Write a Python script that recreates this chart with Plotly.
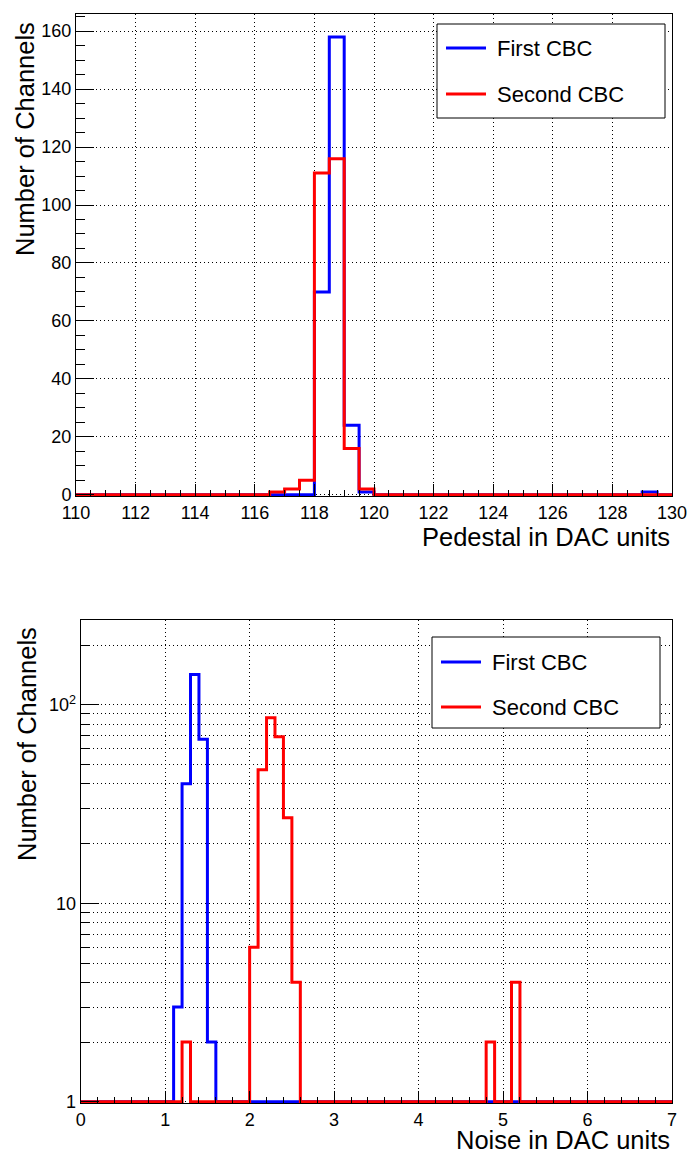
import numpy as np
import plotly.graph_objects as go

# Pedestal histogram: 40 bins of 0.5 DAC units between 110 and 130
ped_edges = np.arange(110, 130.01, 0.5)
ped_first_low = [118.0, 118.5, 119.0, 119.5, 129.0]
ped_first_counts = [70, 158, 24, 1, 1]
ped_second_low = [116.5, 117.0, 117.5, 118.0, 118.5, 119.0, 119.5]
ped_second_counts = [1, 2, 5, 111, 116, 16, 2]

# Noise histogram: 70 bins of 0.1 DAC units between 0 and 7
noise_edges = np.round(np.arange(0, 7.001, 0.1), 1)
noise_first_low = [1.1, 1.2, 1.3, 1.4, 1.5]
noise_first_counts = [3, 40, 142, 67, 2]
noise_second_low = [1.2, 2.0, 2.1, 2.2, 2.3, 2.4, 2.5, 4.8, 5.1]
noise_second_counts = [2, 6, 47, 86, 69, 27, 4, 2, 4]

series_names = ["First CBC", "Second CBC"]
series_colors = ["#0000ff", "#ff0000"]

W, H = 688, 1155
L, R, T, B = 76, 16, 14, 52
FONT = "Liberation Sans, Arial, sans-serif"


def px_x(p):
    """pixel column -> paper x"""
    return (p - L) / (W - L - R)


def px_y(p):
    """pixel row -> paper y"""
    return (H - B - p) / (H - T - B)


def fill(edges, lows, counts):
    h = np.zeros(len(edges) - 1)
    width = edges[1] - edges[0]
    for lo, c in zip(lows, counts):
        h[int(round((lo - edges[0]) / width))] = c
    return h


def step_trace(edges, h, color, xa, ya):
    return go.Scatter(
        x=edges,
        y=np.append(h, h[-1]),
        mode="lines",
        line=dict(color=color, width=3, shape="hv"),
        xaxis=xa,
        yaxis=ya,
        showlegend=False,
        hoverinfo="skip",
    )


fig = go.Figure()

# Top: pedestals
for lows, counts, color in zip(
    [ped_first_low, ped_second_low], [ped_first_counts, ped_second_counts], series_colors
):
    fig.add_trace(step_trace(ped_edges, fill(ped_edges, lows, counts), color, "x", "y"))

# Bottom: noise, log scale (empty bins sit on the axis floor like ROOT draws them)
for lows, counts, color in zip(
    [noise_first_low, noise_second_low], [noise_first_counts, noise_second_counts], series_colors
):
    h = np.clip(fill(noise_edges, lows, counts), 1, None)
    fig.add_trace(step_trace(noise_edges, h, color, "x2", "y2"))

axis_common = dict(
    automargin=False,
    showline=True,
    linecolor="black",
    linewidth=1,
    mirror=True,
    ticks="inside",
    tickcolor="black",
    showgrid=True,
    gridcolor="black",
    griddash="1px,3px",
    gridwidth=1,
    zeroline=False,
    tickfont=dict(size=18, color="black"),
)

fig.update_layout(
    width=W,
    height=H,
    margin=dict(l=L, r=R, t=T, b=B, autoexpand=False),
    paper_bgcolor="white",
    plot_bgcolor="white",
    font=dict(family=FONT, color="black"),
    showlegend=False,
    xaxis=dict(
        axis_common,
        domain=[0, 1],
        anchor="y",
        range=[110, 130],
        tick0=110,
        dtick=2,
        ticklen=12,
        minor=dict(dtick=0.5, ticklen=6, ticks="inside", tickcolor="black", showgrid=False),
    ),
    yaxis=dict(
        axis_common,
        domain=[px_y(496), 1],
        anchor="x",
        range=[-0.4, 165.9],
        tick0=0,
        dtick=20,
        ticklen=18,
        minor=dict(dtick=5, ticklen=9, ticks="inside", tickcolor="black", showgrid=False),
    ),
    xaxis2=dict(
        axis_common,
        domain=[px_x(80.7), 1],
        anchor="y2",
        range=[0, 7],
        tick0=0,
        dtick=1,
        ticklen=12,
        minor=dict(dtick=0.2, ticklen=6, ticks="inside", tickcolor="black", showgrid=False),
    ),
    yaxis2=dict(
        axis_common,
        type="log",
        domain=[0, px_y(620)],
        anchor="x2",
        range=[-0.006, 2.427],
        tickvals=[1, 10, 100],
        ticktext=["1", "10", "10<sup>2</sup>"],
        ticklen=18,
        minor=dict(
            dtick="D1",
            ticklen=9,
            ticks="inside",
            tickcolor="black",
            showgrid=True,
            gridcolor="black",
            griddash="1px,3px",
            gridwidth=1,
        ),
    ),
)

# Axis titles, right aligned as in ROOT
titles = [
    dict(text="Pedestal in DAC units", x=1, y=px_y(537), xanchor="right", yanchor="middle", textangle=0),
    dict(text="Noise in DAC units", x=1, y=px_y(1140), xanchor="right", yanchor="middle", textangle=0),
    dict(text="Number of Channels", x=px_x(25), y=px_y(20), xanchor="center", yanchor="top", textangle=-90),
    dict(text="Number of Channels", x=px_x(27), y=px_y(625), xanchor="center", yanchor="top", textangle=-90),
]
for t in titles:
    fig.add_annotation(
        xref="paper", yref="paper", showarrow=False, font=dict(size=25.5, color="black"), **t
    )

# Legend boxes: (left, right, top, bottom, first row y, second row y, sample x0)
legend_boxes = [
    (437, 665, 24, 118, 48, 94, 446),
    (432, 660, 637, 728, 662, 707, 441),
]
for x0, x1, y0, y1, r1, r2, sx in legend_boxes:
    fig.add_shape(
        type="rect", xref="paper", yref="paper",
        x0=px_x(x0), x1=px_x(x1), y0=px_y(y1), y1=px_y(y0),
        line=dict(color="black", width=1), fillcolor="white", layer="above",
    )
    for row, name, color in zip([r1, r2], series_names, series_colors):
        fig.add_shape(
            type="line", xref="paper", yref="paper",
            x0=px_x(sx), x1=px_x(sx + 40), y0=px_y(row), y1=px_y(row),
            line=dict(color=color, width=3), layer="above",
        )
        fig.add_annotation(
            xref="paper", yref="paper", x=px_x(sx + 49), y=px_y(row),
            xanchor="left", yanchor="middle", showarrow=False,
            text=name, font=dict(size=22, color="black"),
        )

# drop the default body margin so the figure fills the window exactly
fig.write_html(
    "out.html",
    config={"displayModeBar": False},
    post_script="document.body.style.margin='0';document.body.style.overflow='hidden';",
)
